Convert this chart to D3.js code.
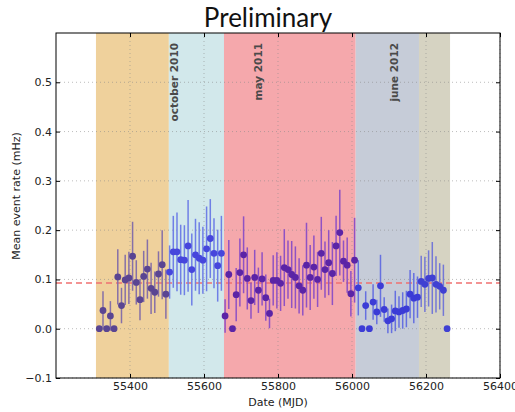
<!DOCTYPE html>
<html>
<head>
<meta charset="utf-8">
<script src="https://cdn.jsdelivr.net/npm/d3@7"></script>
<style>
  body { margin: 0; background: #fff; }
</style>
</head>
<body>
<div class="chart"></div>
<script>
var dates = [55317, 55327, 55337, 55347, 55357, 55367, 55377, 55387, 55397, 55407,
  55417, 55427, 55437, 55447, 55457, 55467, 55477, 55487, 55497, 55507,
  55517, 55527, 55537, 55547, 55557, 55567, 55577, 55587, 55597, 55607,
  55617, 55627, 55637, 55647, 55657, 55667, 55677, 55687, 55697, 55707,
  55717, 55727, 55737, 55747, 55757, 55767, 55777, 55787, 55797, 55807,
  55817, 55827, 55837, 55847, 55857, 55867, 55877, 55887, 55897, 55907,
  55917, 55927, 55937, 55947, 55957, 55967, 55977, 55987, 55997, 56007,
  56017, 56027, 56037, 56047, 56057, 56067, 56077, 56087, 56097, 56107,
  56117, 56127, 56137, 56147, 56157, 56167, 56177, 56187, 56197, 56207,
  56217, 56227, 56237, 56247, 56257];

var rates = [0, 0.037, 0, 0.026, 0, 0.105, 0.047, 0.099, 0.103, 0.147,
  0.094, 0.059, 0.106, 0.121, 0.082, 0.074, 0.111, 0.130, 0.070, 0.115,
  0.156, 0.156, 0.140, 0.139, 0.168, 0.120, 0.150, 0.143, 0.139, 0.162,
  0.183, 0.153, 0.128, 0.153, 0.026, 0.110, 0, 0.069, 0.114, 0.150,
  0.102, 0.057, 0.104, 0.078, 0.101, 0.063, 0.031, 0.098, 0.098, 0.092,
  0.124, 0.120, 0.110, 0.104, 0.087, 0.078, 0.129, 0.104, 0.125, 0.100,
  0.153, 0.120, 0.134, 0.112, 0.168, 0.195, 0.137, 0.129, 0.071, 0.139,
  0.083, 0, 0.047, 0, 0.054, 0.034, 0.087, 0.039, 0.016, 0.020,
  0.036, 0.034, 0.037, 0.040, 0.070, 0.062, 0.064, 0.096, 0.090, 0.102,
  0.103, 0.090, 0.086, 0.078, 0];

var errors = [0, 0.039, 0, 0.030, 0, 0.056, 0.036, 0.051, 0.053, 0.070,
  0.045, 0.042, 0.052, 0.060, 0.052, 0.042, 0.046, 0.070, 0.050, 0.054,
  0.073, 0.080, 0.071, 0.071, 0.093, 0.073, 0.073, 0.073, 0.068, 0.086,
  0.080, 0.071, 0.073, 0.076, 0.034, 0.070, 0, 0.054, 0.069, 0.078,
  0.063, 0.037, 0.056, 0.046, 0.054, 0.047, 0.030, 0.051, 0.057, 0.056,
  0.078, 0.059, 0.068, 0.063, 0.056, 0.051, 0.086, 0.066, 0.064, 0.056,
  0.074, 0.057, 0.066, 0.064, 0.061, 0.087, 0.042, 0.056, 0.046, 0.086,
  0.056, 0, 0.029, 0, 0.036, 0.025, 0.063, 0.025, 0.025, 0.029,
  0.041, 0.032, 0.037, 0.037, 0.049, 0.051, 0.042, 0.052, 0.056, 0.057,
  0.073, 0.057, 0.047, 0.052, 0];

var bandStarts = [55308, 55505, 55654, 56010, 56181];
var bandEnds = [55505, 55654, 56010, 56181, 56265];
var bandColors = ["#efd19c", "#d2e8eb", "#f5a8ac", "#c6ccd8", "#d6d3c2"];
// how the blue markers look through each band
var pointColors = ["#5a4592", "#4646dc", "#5b24a6", "#3c3cd6", "#4040d2"];
var barColors = ["#8670a8", "#6f7fe6", "#8f52c4", "#6670e0", "#7478d6"];

var periodLabels = ["october 2010", "may 2011", "june 2012"];
var periodDates = [55530, 55757, 56124];

var meanRate = 0.093;
var xTicks = [55400, 55600, 55800, 56000, 56200, 56400];
var yTicks = [-0.1, 0.0, 0.1, 0.2, 0.3, 0.4, 0.5];

function init() {
  var w = 515, h = 412;
  var left = 56, right = 500, top = 33, bottom = 378;

  function bandOf(d) {
    for (var i = 0; i < bandStarts.length; i++) {
      if (d >= bandStarts[i] && d < bandEnds[i]) return i;
    }
    return 1;
  }

  var data = dates.map(function(d, i) {
    return { date: d, rate: rates[i], err: errors[i], band: bandOf(d) };
  });
  var bands = bandStarts.map(function(s, i) {
    return { start: s, end: bandEnds[i], color: bandColors[i] };
  });

  var x = d3.scaleLinear().domain([55200, 56400]).range([left, right]);
  var y = d3.scaleLinear().domain([-0.1, 0.6]).range([bottom, top]);

  var svg = d3.select(".chart").append("svg")
    .attr("width", w)
    .attr("height", h)
    .style("font-family", "'DejaVu Sans', sans-serif");

  svg.append("text")
    .attr("x", 268).attr("y", 27)
    .attr("text-anchor", "middle")
    .style("font-family", "Lato, sans-serif")
    .style("font-size", "26px")
    .attr("fill", "#111")
    .text("Preliminary");

  var plot = svg.append("g");

  // observation periods
  plot.selectAll(".band").data(bands).enter().append("rect")
    .attr("x", function(d) { return x(d.start); })
    .attr("y", top)
    .attr("width", function(d) { return x(d.end) - x(d.start); })
    .attr("height", bottom - top)
    .attr("fill", function(d) { return d.color; });

  // grid
  plot.selectAll(".gx").data(xTicks).enter().append("line")
    .attr("x1", function(d) { return x(d); })
    .attr("x2", function(d) { return x(d); })
    .attr("y1", top).attr("y2", bottom)
    .attr("stroke", "#888").attr("stroke-opacity", 0.7).attr("stroke-width", 0.8)
    .attr("stroke-dasharray", "1,3");
  plot.selectAll(".gy").data(yTicks).enter().append("line")
    .attr("x1", left).attr("x2", right)
    .attr("y1", function(d) { return y(d); })
    .attr("y2", function(d) { return y(d); })
    .attr("stroke", "#888").attr("stroke-opacity", 0.7).attr("stroke-width", 0.8)
    .attr("stroke-dasharray", "1,3");

  // mean rate line
  plot.append("line")
    .attr("x1", left).attr("x2", right)
    .attr("y1", y(meanRate)).attr("y2", y(meanRate))
    .attr("stroke", "#f07070").attr("stroke-width", 1.5)
    .attr("stroke-dasharray", "6,4");

  // error bars
  plot.selectAll(".err").data(data.filter(function(d) { return d.err > 0; }))
    .enter().append("line")
    .attr("x1", function(d) { return x(d.date); })
    .attr("x2", function(d) { return x(d.date); })
    .attr("y1", function(d) { return y(d.rate - d.err); })
    .attr("y2", function(d) { return y(d.rate + d.err); })
    .attr("stroke", function(d) { return barColors[d.band]; })
    .attr("stroke-width", 1.5);

  plot.selectAll(".pt").data(data).enter().append("circle")
    .attr("cx", function(d) { return x(d.date); })
    .attr("cy", function(d) { return y(d.rate); })
    .attr("r", 3.4)
    .attr("fill", function(d) { return pointColors[d.band]; });

  plot.selectAll(".plabel").data(periodLabels).enter().append("text")
    .attr("transform", function(d, i) {
      return "translate(" + x(periodDates[i]) + "," + (top + 10) + ") rotate(-90)";
    })
    .attr("text-anchor", "end")
    .style("font-size", "10.5px")
    .style("font-weight", "bold")
    .attr("fill", "#4a4a4a")
    .text(function(d) { return d; });

  // axes
  svg.append("g")
    .attr("transform", "translate(0," + bottom + ")")
    .call(d3.axisBottom(x).tickValues(xTicks).tickFormat(d3.format("d"))
      .tickSizeInner(-4).tickSizeOuter(0).tickPadding(4))
    .call(function(g) { g.select(".domain").remove(); });
  svg.append("g")
    .attr("transform", "translate(0," + top + ")")
    .call(d3.axisTop(x).tickValues(xTicks).tickFormat("")
      .tickSizeInner(-4).tickSizeOuter(0))
    .call(function(g) { g.select(".domain").remove(); });
  svg.append("g")
    .attr("transform", "translate(" + left + ",0)")
    .call(d3.axisLeft(y).tickValues(yTicks).tickFormat(d3.format(".1f"))
      .tickSizeInner(-4).tickSizeOuter(0).tickPadding(4))
    .call(function(g) { g.select(".domain").remove(); });
  svg.append("g")
    .attr("transform", "translate(" + right + ",0)")
    .call(d3.axisRight(y).tickValues(yTicks).tickFormat("")
      .tickSizeInner(-4).tickSizeOuter(0))
    .call(function(g) { g.select(".domain").remove(); });

  svg.selectAll(".tick text")
    .style("font-family", "'DejaVu Sans', sans-serif")
    .style("font-size", "11px")
    .attr("fill", "#222");

  svg.append("rect")
    .attr("x", left).attr("y", top)
    .attr("width", right - left).attr("height", bottom - top)
    .attr("fill", "none").attr("stroke", "#000").attr("stroke-width", 1);

  svg.append("text")
    .attr("x", 278).attr("y", 406)
    .attr("text-anchor", "middle")
    .style("font-size", "11px")
    .attr("fill", "#222")
    .text("Date (MJD)");

  svg.append("text")
    .attr("transform", "translate(20,196) rotate(-90)")
    .attr("text-anchor", "middle")
    .style("font-size", "11px")
    .attr("fill", "#222")
    .text("Mean event rate (mHz)");
}

window.onload = init;
</script>
</body>
</html>
